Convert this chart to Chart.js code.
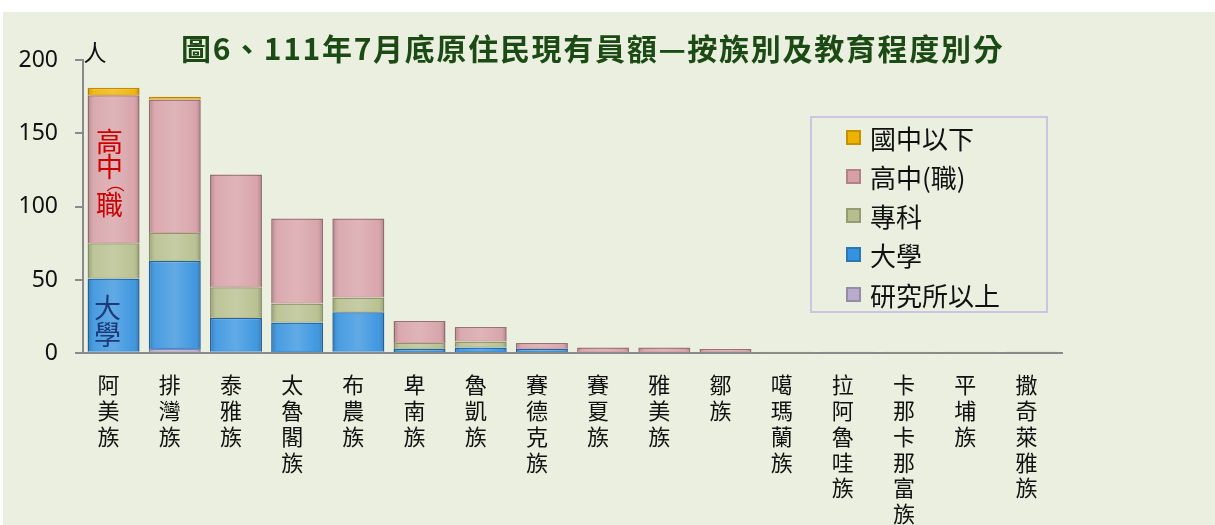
<!DOCTYPE html>
<html>
<head>
<meta charset="utf-8">
<script src="https://cdn.jsdelivr.net/npm/chart.js@4.4.1/dist/chart.umd.min.js"></script>
<style>
  body { margin: 0; background: #fff; width: 1215px; height: 525px; overflow: hidden; position: relative; font-family: "Noto Sans CJK TC", "Noto Sans", sans-serif; }
  #panel { position: absolute; left: 3px; top: 12px; width: 1212px; height: 513px; background: #ebefdf; }
  #chart { position: absolute; left: 0; top: 0; }
  #title { position: absolute; left: 178px; top: 13px; font-size: 30px; font-weight: bold; color: #1b4a14; white-space: nowrap; letter-spacing: 1.7px; }
  #legend { position: absolute; left: 807px; top: 104px; width: 234px; height: 193px; border: 2px solid #ccc4e2; }
  .item { position: absolute; left: 34px; height: 34px; display: flex; align-items: center; font-size: 26px; color: #111; }
  .swatch { width: 15px; height: 15px; margin-right: 9px; box-shadow: inset 0 0 0 2px rgba(0,0,0,0.18); }
</style>
</head>
<body>
<div id="panel">
  <canvas id="chart" width="1212" height="513"></canvas>
  <div id="title">圖6、111年7月底原住民現有員額—按族別及教育程度別分</div>
  <div id="legend"></div>
</div>
<script>
const tribes = ["阿美族", "排灣族", "泰雅族", "太魯閣族", "布農族", "卑南族", "魯凱族", "賽德克族",
  "賽夏族", "雅美族", "鄒族", "噶瑪蘭族", "拉阿魯哇族", "卡那卡那富族", "平埔族", "撒奇萊雅族"];

// stack order from bottom to top
const graduate = [1, 3, 1, 0, 1, 0, 0, 0, 0, 0, 0, 0, 0, 0, 0, 0];
const university = [50, 60, 23, 21, 27, 3, 4, 3, 0, 0, 0, 0, 0, 0, 0, 1];
const college = [24, 19, 21, 13, 10, 4, 4, 0, 0, 0, 0, 1, 0, 1, 1, 0];
const highSchool = [101, 91, 77, 58, 54, 15, 10, 4, 4, 4, 3, 0, 1, 0, 0, 0];
const juniorHigh = [5, 2, 0, 0, 0, 0, 0, 0, 0, 0, 0, 0, 0, 0, 0, 0];

const yTicks = [0, 50, 100, 150, 200];

const seriesNames = ["研究所以上", "大學", "專科", "高中(職)", "國中以下"];
const seriesData = [graduate, university, college, highSchool, juniorHigh];
const fillColors = ["#b9abcc", "#3592de", "#b6be8c", "#d6a0a6", "#f0b200"];
const edgeColors = ["#8c7ea4", "#1f64a8", "#8c9668", "#9e6e76", "#c08800"];

// each label stacked one character per line
const labels = tribes.map((t) => t.split(""));

const datasets = seriesData.map((data, i) => ({
  label: seriesNames[i],
  data: data,
  backgroundColor: fillColors[i],
  borderColor: edgeColors[i],
  borderWidth: 1.5,
  barPercentage: 0.85,
  categoryPercentage: 1,
}));

// soft bevel shading over every bar
const bevelPlugin = {
  id: "bevel",
  afterDatasetsDraw(chart) {
    const ctx = chart.ctx;
    chart.data.datasets.forEach((ds, di) => {
      const meta = chart.getDatasetMeta(di);
      meta.data.forEach((bar) => {
        const h = Math.abs(bar.base - bar.y);
        if (h < 3) return;
        const left = bar.x - bar.width / 2;
        const g = ctx.createLinearGradient(left, 0, left + bar.width, 0);
        g.addColorStop(0, "rgba(0,0,0,0.2)");
        g.addColorStop(0.12, "rgba(255,255,255,0.1)");
        g.addColorStop(0.5, "rgba(255,255,255,0.22)");
        g.addColorStop(0.88, "rgba(255,255,255,0.06)");
        g.addColorStop(1, "rgba(0,0,0,0.25)");
        ctx.save();
        ctx.fillStyle = g;
        ctx.fillRect(left + 1, Math.min(bar.y, bar.base) + 1, bar.width - 2, h - 2);
        ctx.restore();
      });
    });
  },
};

// the in-bar notes and the unit mark next to the y axis
const notesPlugin = {
  id: "notes",
  afterDraw(chart) {
    const ctx = chart.ctx;
    const x = chart.scales.x;
    const y = chart.scales.y;
    const cx = x.getPixelForValue(0) - 4;
    ctx.save();
    ctx.textAlign = "center";
    ctx.textBaseline = "middle";
    ctx.font = "27px 'Noto Sans CJK TC'";
    ctx.fillStyle = "#cc0000";
    ctx.fillText("高", cx, y.getPixelForValue(144));
    ctx.fillText("中", cx, y.getPixelForValue(127));
    ctx.fillText("職", cx, y.getPixelForValue(101));
    ctx.font = "18px 'Noto Sans CJK TC'";
    ctx.fillText("︵", cx + 6, y.getPixelForValue(116));
    ctx.font = "27px 'Noto Sans CJK TC'";
    ctx.fillStyle = "#1d3a78";
    ctx.fillText("大", cx - 2, y.getPixelForValue(31));
    ctx.fillText("學", cx - 2, y.getPixelForValue(13));
    ctx.fillStyle = "#111";
    ctx.font = "23px 'Noto Sans CJK TC'";
    ctx.fillText("人", chart.chartArea.left + 12, y.getPixelForValue(200) - 8);
    ctx.restore();
  },
};

new Chart(document.getElementById("chart"), {
  type: "bar",
  data: { labels: labels, datasets: datasets },
  options: {
    responsive: false,
    animation: false,
    layout: { padding: { top: 48, right: 153, bottom: 0, left: 0 } },
    plugins: { legend: { display: false }, tooltip: { enabled: false } },
    scales: {
      x: {
        stacked: true,
        grid: { display: false, drawTicks: false },
        border: { display: true, color: "#8a8a8a", width: 2 },
        ticks: {
          autoSkip: false,
          maxRotation: 0,
          padding: 18,
          labelOffset: -5,
          color: "#111",
          font: { family: "'Noto Sans CJK TC'", size: 22, lineHeight: 1.18 },
        },
        afterFit: (scale) => { scale.height = 171.7; },
      },
      y: {
        stacked: true,
        min: 0,
        max: 200,
        afterBuildTicks: (scale) => { scale.ticks = yTicks.map((v) => ({ value: v })); },
        grid: { drawOnChartArea: false, drawTicks: true, tickLength: 8, color: "#8a8a8a", lineWidth: 2 },
        border: { display: true, color: "#8a8a8a", width: 2 },
        ticks: {
          padding: 17,
          color: "#111",
          font: { family: "'Noto Sans'", size: 23 },
        },
        afterFit: (scale) => { scale.width = 80; },
      },
    },
  },
  plugins: [bevelPlugin, notesPlugin],
});

// legend box, top row is the top of the stack
const legend = document.getElementById("legend");
for (let i = seriesNames.length - 1; i >= 0; i--) {
  const row = seriesNames.length - 1 - i;
  const item = document.createElement("div");
  item.className = "item";
  item.style.top = (2 + row * 39.3) + "px";
  item.innerHTML = `<span class="swatch" style="background:${fillColors[i]}"></span>${seriesNames[i]}`;
  legend.appendChild(item);
}
</script>
</body>
</html>
